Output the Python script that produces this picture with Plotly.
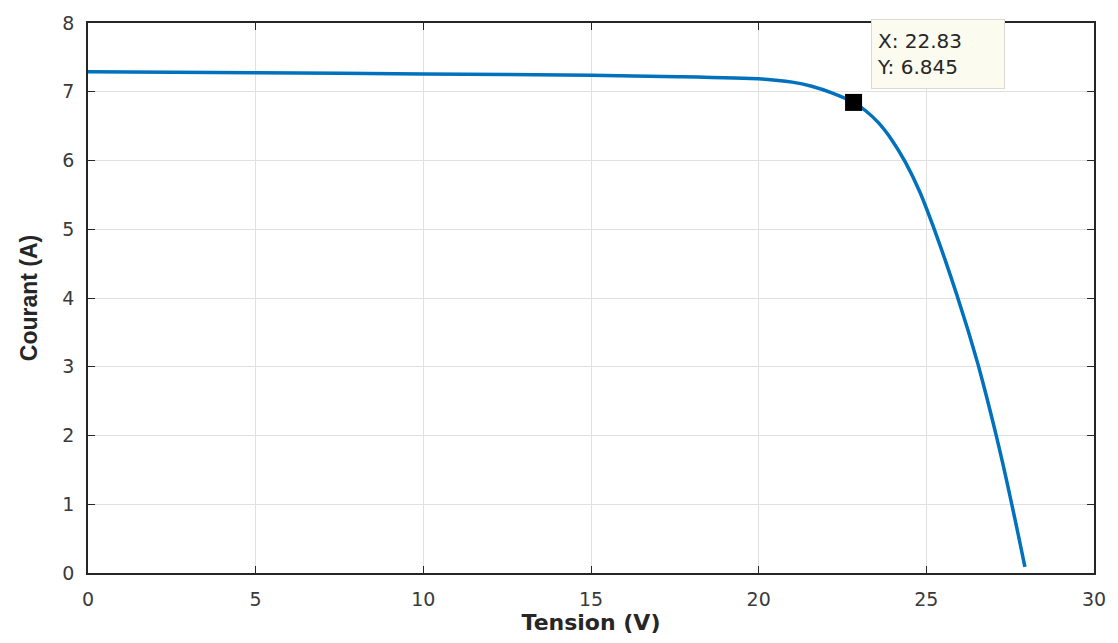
import plotly.graph_objects as go

tension = [0, 5, 10, 15, 17.6, 20, 21, 21.58, 22.2, 22.83, 23.2, 23.57, 23.97, 24.37, 24.8,
           25.2, 25.55, 25.9, 26.25, 26.55, 26.82, 27.08, 27.3, 27.53, 27.74, 27.94]
courant = [7.29, 7.275, 7.26, 7.24, 7.22, 7.19, 7.14, 7.08, 6.98, 6.845, 6.72, 6.55, 6.30, 5.98, 5.55,
           5.05, 4.57, 4.06, 3.52, 3.02, 2.52, 2.01, 1.55, 1.04, 0.56, 0.09]

point_x = [22.83]
point_y = [6.845]

x_ticks = [0, 5, 10, 15, 20, 25, 30]
y_ticks = [0, 1, 2, 3, 4, 5, 6, 7, 8]

fig = go.Figure()
fig.add_trace(go.Scatter(x=tension, y=courant, mode="lines",
                         line=dict(color="#0072BD", width=3.5, shape="spline", smoothing=0.5),
                         hoverinfo="skip", showlegend=False))
fig.add_trace(go.Scatter(x=point_x, y=point_y, mode="markers",
                         marker=dict(symbol="square", size=17, color="black"),
                         showlegend=False))

fig.add_annotation(x=23.36, y=1, xref="x", yref="paper", xanchor="left", yanchor="top",
                   yshift=4,
                   text="X: 22.83<br>Y: 6.845", showarrow=False, align="left",
                   width=122, height=58,
                   font=dict(family="DejaVu Sans", size=20, color="#262626"),
                   bgcolor="#FBFBEF", bordercolor="#DADAD0", borderwidth=1, borderpad=5)

axis_common = dict(showline=True, linecolor="#262626", linewidth=1.5, mirror="ticks",
                   ticks="inside", ticklen=7, tickcolor="#262626",
                   showgrid=True, gridcolor="#E0E0E0", gridwidth=1, zeroline=False,
                   tickfont=dict(family="DejaVu Sans", size=19, color="#3a3a3a"))

fig.update_xaxes(range=[0, 30], tickvals=x_ticks, ticktext=[str(t) for t in x_ticks],
                 ticklabelstandoff=8,
                 title=dict(text="<b>Tension (V)</b>", standoff=6,
                            font=dict(family="DejaVu Sans", size=22, color="#262626")),
                 **axis_common)
fig.update_yaxes(range=[0, 8], tickvals=y_ticks, ticktext=[str(t) for t in y_ticks],
                 ticklabelstandoff=8,
                 title=dict(text="<b>Courant (A)</b>", standoff=18,
                            font=dict(family="Liberation Sans", size=23, color="#262626")),
                 **axis_common)

fig.update_layout(width=1118, height=643, margin=dict(l=88, r=22, t=16, b=70),
                  plot_bgcolor="white", paper_bgcolor="white")

fig.write_html("out.html")
